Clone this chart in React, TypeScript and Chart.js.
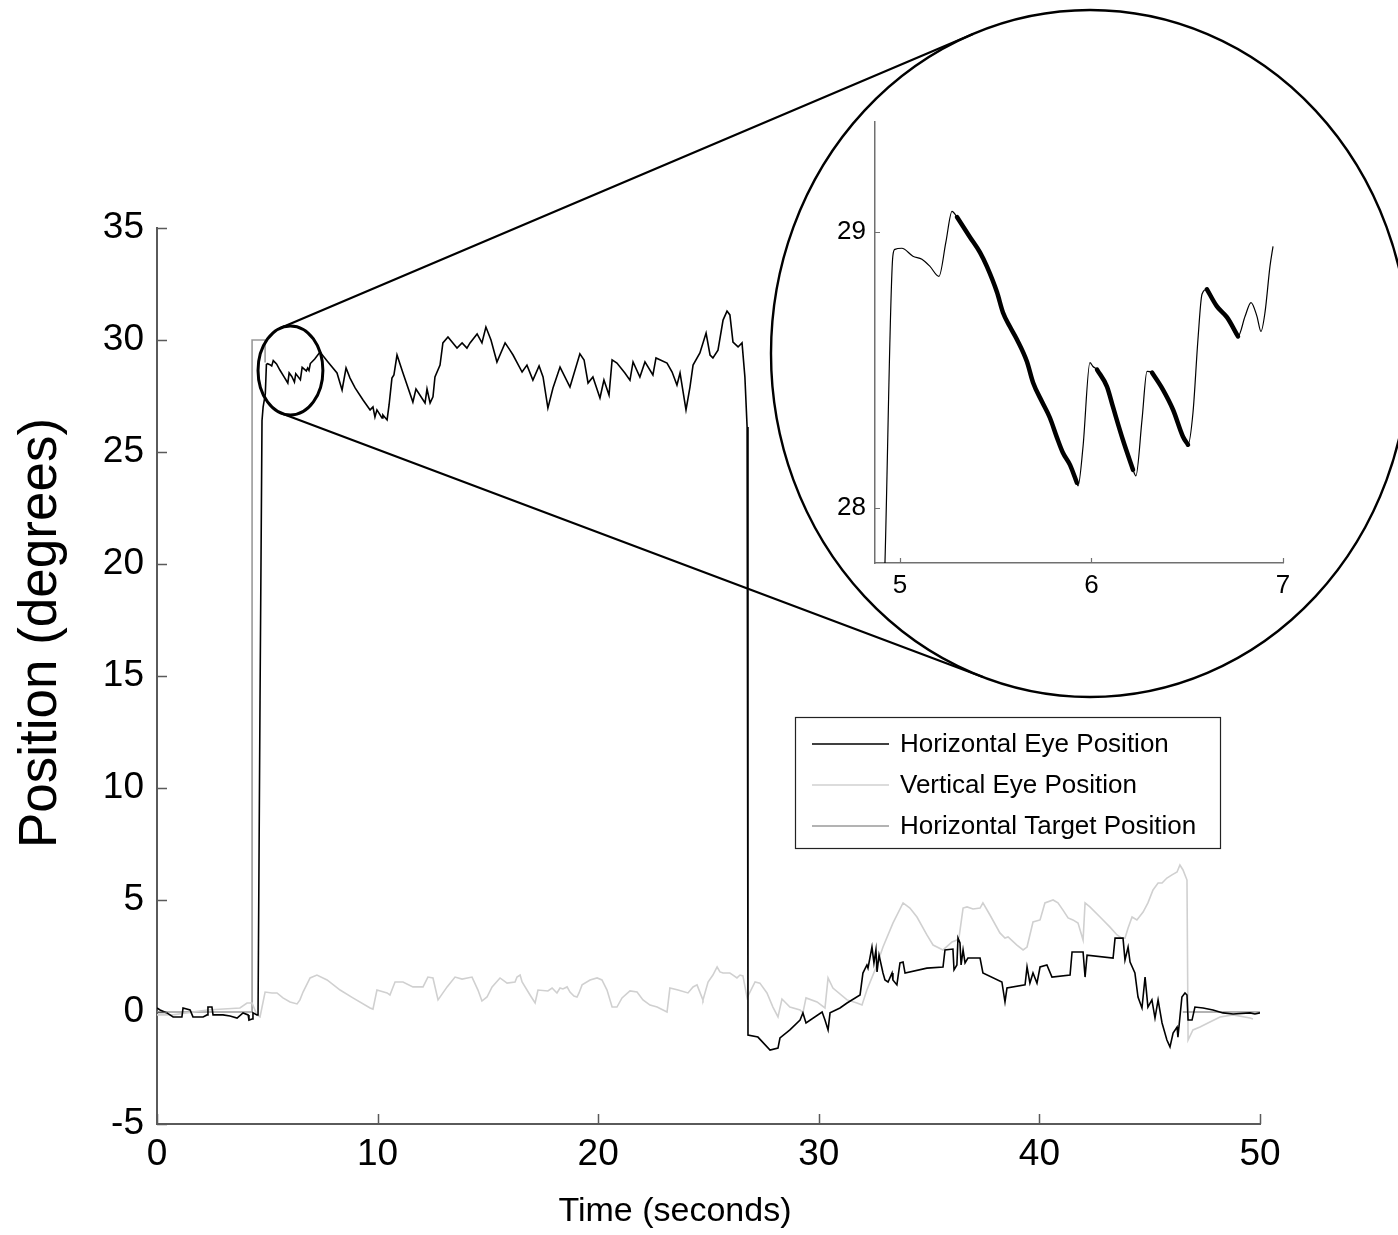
import { useEffect, useRef } from "react";
import { Chart, registerables } from "chart.js";

Chart.register(...registerables);

const FONT = "'Liberation Sans', Arial, Helvetica, sans-serif";

// ---- Recorded traces: [time (s), position (deg)] ----
const horizontalEye: [number, number][] = [
  [0, 0.18], [0.14, 0.09], [0.45, -0.04], [0.73, -0.22], [1.13, -0.22], [1.18, 0.18], [1.5, 0.09], [1.63, -0.22],
  [2.09, -0.22], [2.27, -0.13], [2.31, 0.22], [2.49, 0.22], [2.54, -0.13], [2.99, -0.13], [3.31, -0.18], [3.63, -0.27],
  [3.9, -0.04], [4.13, -0.13], [4.17, -0.36], [4.31, -0.31], [4.35, -0.04], [4.53, -0.13], [4.58, -0.13], [4.67, 13.9],
  [4.76, 26.4], [4.81, 27.0], [4.91, 27.6], [4.96, 28.91], [5.01, 28.94], [5.12, 28.9], [5.2, 28.84], [5.27, 29.08],
  [5.42, 28.93], [5.57, 28.66], [5.74, 28.39], [5.93, 28.08], [5.99, 28.53], [6.11, 28.37], [6.23, 28.12], [6.29, 28.5],
  [6.5, 28.23], [6.58, 28.78], [6.77, 28.62], [6.83, 28.75], [6.89, 28.64], [6.95, 28.95], [7.15, 29.15], [7.39, 29.46],
  [7.75, 29.02], [8.16, 28.53], [8.39, 27.77], [8.57, 28.75], [8.75, 28.3], [8.98, 27.86], [9.34, 27.32], [9.66, 26.88],
  [9.79, 27.01], [9.88, 26.56], [9.97, 26.88], [10.2, 26.52], [10.24, 26.65], [10.43, 26.43], [10.52, 27.1], [10.65, 28.3],
  [10.74, 28.44], [10.88, 29.33], [11.15, 28.53], [11.6, 27.23], [11.74, 27.81], [12.15, 27.19], [12.24, 27.81], [12.38, 27.19],
  [12.51, 27.46], [12.6, 28.35], [12.83, 28.88], [12.96, 29.87], [13.19, 30.13], [13.6, 29.64], [13.83, 29.87], [14.05, 29.64],
  [14.19, 29.87], [14.51, 30.27], [14.73, 29.87], [14.91, 30.58], [15.14, 30.0], [15.41, 29.02], [15.78, 29.87], [16.0, 29.55],
  [16.14, 29.33], [16.55, 28.57], [16.77, 28.88], [17.04, 28.21], [17.32, 28.84], [17.5, 28.35], [17.72, 26.96], [17.95, 27.86],
  [18.27, 28.79], [18.72, 27.9], [19.17, 29.38], [19.36, 29.11], [19.54, 28.08], [19.76, 28.35], [20.08, 27.41], [20.26, 28.21],
  [20.49, 27.54], [20.63, 29.11], [20.85, 28.97], [21.21, 28.53], [21.44, 28.21], [21.58, 29.02], [21.89, 28.35], [22.12, 29.02],
  [22.48, 28.44], [22.62, 29.2], [23.12, 28.97], [23.35, 28.57], [23.57, 27.99], [23.71, 28.53], [23.98, 26.88], [24.16, 27.9],
  [24.3, 28.88], [24.61, 29.42], [24.89, 30.31], [25.07, 29.33], [25.2, 29.2], [25.43, 29.55], [25.66, 30.89], [25.84, 31.29],
  [25.97, 31.12], [26.11, 29.91], [26.34, 29.69], [26.52, 29.87], [26.65, 28.35], [26.75, 26.12], [26.79, -1.03], [27.24, -1.12],
  [27.79, -1.7], [28.15, -1.61], [28.24, -1.16], [28.69, -0.8], [29.15, -0.36], [29.28, -0.04], [29.42, -0.49], [30.15, 0.0],
  [30.28, -0.36], [30.42, -0.8], [30.51, -0.04], [30.96, 0.18], [31.28, 0.4], [31.87, 0.76], [32.0, 1.74], [32.18, 2.1],
  [32.23, 1.96], [32.41, 2.9], [32.5, 2.19], [32.59, 2.77], [32.64, 1.79], [32.73, 2.54], [32.91, 1.74], [33.0, 1.43],
  [33.14, 1.34], [33.32, 1.74], [33.36, 1.43], [33.54, 1.21], [33.68, 2.19], [33.82, 2.23], [33.91, 1.74], [34.9, 1.96],
  [35.63, 2.01], [35.72, 2.77], [36.08, 2.81], [36.13, 1.88], [36.26, 2.1], [36.31, 3.3], [36.4, 3.08], [36.45, 2.1],
  [36.54, 2.77], [36.63, 2.19], [36.76, 2.41], [37.31, 2.41], [37.44, 1.74], [38.3, 1.34], [38.44, 0.45], [38.53, 1.07],
  [39.35, 1.21], [39.44, 2.01], [39.57, 1.29], [39.71, 1.74], [39.89, 1.29], [40.03, 2.01], [40.34, 2.1], [40.57, 1.56],
  [41.39, 1.65], [41.48, 2.68], [41.98, 2.68], [42.07, 1.56], [42.16, 2.54], [43.34, 2.41], [43.43, 3.3], [43.79, 3.3],
  [43.88, 2.32], [44.02, 2.9], [44.11, 2.23], [44.33, 1.74], [44.47, 0.67], [44.65, 0.18], [44.79, 1.56], [44.92, 0.22],
  [45.1, 0.54], [45.24, -0.27], [45.38, 0.54], [45.56, -0.49], [45.78, -1.25], [45.92, -1.56], [46.06, -0.94], [46.24, -0.67],
  [46.28, -1.12], [46.46, 0.67], [46.6, 0.85], [46.69, 0.76], [46.74, -0.36], [46.92, -0.36], [47.05, 0.22], [47.42, 0.18],
  [47.87, 0.09], [48.32, -0.04], [48.78, -0.09], [49.55, -0.04], [49.77, -0.09], [50, -0.04],
];

const verticalEye: [number, number][] = [
  [0, -0.13], [0.73, -0.13], [2.27, 0.09], [3.76, 0.18], [4.08, 0.4], [4.31, 0.4], [4.53, -0.13], [4.67, -0.22],
  [4.9, 0.89], [5.21, 0.85], [5.44, 0.85], [5.71, 0.63], [6.03, 0.45], [6.35, 0.36], [6.48, 0.54], [6.62, 0.89],
  [6.94, 1.52], [7.25, 1.65], [7.71, 1.43], [8.3, 0.98], [8.88, 0.63], [9.66, 0.18], [9.79, 0.13], [9.97, 0.98],
  [10.43, 0.85], [10.56, 0.76], [10.79, 1.34], [11.15, 1.34], [11.6, 1.12], [12.06, 1.12], [12.28, 1.56], [12.51, 1.52],
  [12.74, 0.54], [13.15, 1.12], [13.51, 1.56], [13.83, 1.47], [14.28, 1.56], [14.55, 0.98], [14.73, 0.49], [14.96, 0.67],
  [15.19, 1.12], [15.55, 1.52], [15.87, 1.29], [16.23, 1.34], [16.32, 1.56], [16.46, 1.65], [16.55, 1.34], [16.91, 0.76],
  [17.14, 0.4], [17.27, 0.98], [17.72, 0.94], [17.91, 1.07], [18.13, 0.85], [18.27, 1.07], [18.4, 1.03], [18.59, 1.12],
  [18.72, 0.89], [18.9, 0.71], [19.04, 0.67], [19.13, 0.85], [19.27, 1.21], [19.63, 1.43], [19.95, 1.52], [20.17, 1.43],
  [20.4, 0.98], [20.63, 0.22], [20.85, 0.22], [21.08, 0.63], [21.44, 0.94], [21.76, 0.89], [22.03, 0.54], [22.35, 0.31],
  [22.67, 0.22], [22.94, 0.09], [23.12, 0.0], [23.25, 1.07], [23.62, 0.98], [24.07, 0.85], [24.3, 1.12], [24.48, 1.21],
  [24.71, 0.63], [24.75, 0.54], [24.98, 1.34], [25.2, 1.65], [25.39, 2.01], [25.52, 1.79], [25.66, 1.74], [25.97, 1.74],
  [26.11, 1.65], [26.29, 1.52], [26.43, 1.65], [26.56, 1.61], [26.75, 0.63], [27.11, 1.34], [27.33, 1.29], [27.65, 0.85],
  [27.92, 0.22], [28.15, -0.22], [28.33, 0.58], [28.69, 0.22], [29.15, 0.09], [29.28, -0.04], [29.42, 0.63], [29.92, 0.45],
  [30.28, 0.18], [30.42, 1.52], [30.64, 1.07], [31.28, 0.54], [31.73, 0.4], [31.96, 0.31], [32.18, 0.98], [32.55, 1.88],
  [32.91, 2.9], [33.36, 3.97], [33.82, 4.87], [34.13, 4.64], [34.45, 4.24], [34.9, 3.44], [35.18, 2.99], [35.63, 2.77],
  [36.04, 3.13], [36.26, 3.21], [36.36, 3.35], [36.54, 4.64], [36.72, 4.69], [36.99, 4.6], [37.31, 4.64], [37.44, 4.87],
  [37.76, 4.33], [38.21, 3.53], [38.44, 3.3], [38.58, 3.35], [38.98, 2.99], [39.26, 2.77], [39.44, 2.9], [39.71, 4.02],
  [40.03, 4.11], [40.25, 4.87], [40.62, 5.0], [40.84, 4.87], [41.07, 4.55], [41.3, 4.2], [41.52, 4.11], [41.75, 3.97],
  [41.98, 3.21], [42.07, 4.87], [42.29, 4.69], [42.75, 4.24], [43.2, 3.79], [43.52, 3.44], [43.74, 3.3], [43.88, 3.3],
  [44.02, 3.75], [44.2, 4.24], [44.42, 4.11], [44.7, 4.46], [44.92, 4.87], [45.15, 5.45], [45.38, 5.76], [45.56, 5.76],
  [45.78, 5.98], [46.01, 6.12], [46.24, 6.25], [46.37, 6.56], [46.51, 6.34], [46.69, 5.89], [46.74, -1.25], [46.96, -0.8],
  [47.28, -0.67], [47.73, -0.45], [48.19, -0.22], [48.78, -0.13], [49.55, -0.27], [49.68, -0.31],
];

// target is only shown where it is defined (null = no target)
const horizontalTarget: [number, number | null][] = [
  [0, 0], [4.31, 0], [4.31, 30], [4.9, 30], [4.9, 29.0], [20, null], [46.5, 0], [50, 0],
];

const seriesLabels = ["Horizontal Eye Position", "Vertical Eye Position", "Horizontal Target Position"];
const seriesColors = ["#000000", "#d0d0d0", "#9a9a9a"];

const timeTicks = [0, 10, 20, 30, 40, 50];
const positionTicks = [-5, 0, 5, 10, 15, 20, 25, 30, 35];
const xTitle = "Time (seconds)";
const yTitle = "Position (degrees)";

// ---- Magnified excerpt of the horizontal eye trace ----
const insetTrace: [number, number][] = [
  [4.9, 27.3], [4.922, 27.8], [4.963, 28.913], [4.974, 28.938], [5.01, 28.942], [5.068, 28.913], [5.115, 28.902],
  [5.157, 28.876], [5.204, 28.84], [5.24, 28.964], [5.272, 29.076], [5.298, 29.055], [5.366, 28.982], [5.418, 28.927],
  [5.454, 28.876], [5.507, 28.782], [5.538, 28.709], [5.574, 28.658], [5.611, 28.611], [5.663, 28.531], [5.695, 28.455],
  [5.742, 28.385], [5.783, 28.327], [5.82, 28.255], [5.851, 28.2], [5.888, 28.156], [5.924, 28.091], [5.93, 28.08],
  [5.956, 28.222], [5.992, 28.527], [6.008, 28.513], [6.029, 28.502], [6.081, 28.44], [6.112, 28.367], [6.164, 28.247],
  [6.217, 28.138], [6.232, 28.116], [6.264, 28.32], [6.29, 28.495], [6.316, 28.491], [6.373, 28.429], [6.426, 28.356],
  [6.478, 28.258], [6.504, 28.229], [6.53, 28.345], [6.556, 28.611], [6.577, 28.775], [6.603, 28.793], [6.655, 28.731],
  [6.708, 28.691], [6.765, 28.622], [6.802, 28.695], [6.833, 28.745], [6.864, 28.695], [6.885, 28.64], [6.906, 28.709],
  [6.932, 28.876], [6.948, 28.949],
];
// slow phases highlighted with a heavy stroke: [start, end] in seconds
const slowPhases: [number, number][] = [[5.298, 5.924], [6.029, 6.217], [6.316, 6.504], [6.603, 6.765]];
const insetTimeTicks = [5, 6, 7];
const insetPositionTicks = [28, 29];
const insetTimeRange: [number, number] = [4.87, 7.0];
const insetPositionRange: [number, number] = [27.8, 29.4];

// magnified region marked on the main plot (data units)
const lensSource = { t: 6.05, p: 28.64, rt: 1.47, rp: 1.99 };

// ---- Layout ----
const W = 1398;
const H = 1235;
const MAIN_AREA = { left: 157, top: 228, right: 1260, bottom: 1124 };
const LENS = { cx: 1090, cy: 353.5, rx: 319, ry: 343.5 };
const INSET_AREA = { left: 875, top: 122, right: 1283, bottom: 563 };
const LEGEND_BOX = { left: 795, top: 717, width: 425, height: 131 };
const X_TITLE_POS = { x: 675, y: 1212, size: 34 };
const Y_TITLE_POS = { x: 41, y: 633, size: 53 };

const toXY = (pts: [number, number | null][]) => pts.map(([x, y]) => ({ x, y }));

const inwardTicks = {
  id: "inwardTicks",
  afterDatasetsDraw(chart: any, _args: any, opts: any) {
    const { ctx, chartArea } = chart;
    ctx.save();
    ctx.strokeStyle = opts.color;
    ctx.lineWidth = opts.width;
    ctx.beginPath();
    const xs = chart.scales.x;
    for (const t of xs.ticks) {
      const px = Math.round(xs.getPixelForValue(t.value)) + 0.5;
      ctx.moveTo(px, chartArea.bottom);
      ctx.lineTo(px, chartArea.bottom - opts.length);
    }
    const ys = chart.scales.y;
    for (const t of ys.ticks) {
      const py = Math.round(ys.getPixelForValue(t.value)) + 0.5;
      ctx.moveTo(chartArea.left, py);
      ctx.lineTo(chartArea.left + opts.length, py);
    }
    ctx.stroke();
    ctx.restore();
  },
};

const axisTitles = {
  id: "axisTitles",
  afterDraw(chart: any) {
    const { ctx } = chart;
    ctx.save();
    ctx.fillStyle = "#000";
    ctx.textAlign = "center";
    ctx.textBaseline = "middle";
    ctx.font = `${X_TITLE_POS.size}px ${FONT}`;
    ctx.fillText(xTitle, X_TITLE_POS.x, X_TITLE_POS.y);
    ctx.translate(Y_TITLE_POS.x, Y_TITLE_POS.y);
    ctx.rotate(-Math.PI / 2);
    ctx.font = `${Y_TITLE_POS.size}px ${FONT}`;
    ctx.fillText(yTitle, 0, 0);
    ctx.restore();
  },
};

type HP = { x: number; y: number; k: number };
function convexHull(pts: HP[]): HP[] {
  const s = [...pts].sort((a, b) => a.x - b.x || a.y - b.y);
  const cross = (o: HP, a: HP, b: HP) => (a.x - o.x) * (b.y - o.y) - (a.y - o.y) * (b.x - o.x);
  const lower: HP[] = [];
  for (const p of s) {
    while (lower.length >= 2 && cross(lower[lower.length - 2], lower[lower.length - 1], p) <= 0) lower.pop();
    lower.push(p);
  }
  const upper: HP[] = [];
  for (let i = s.length - 1; i >= 0; i--) {
    const p = s[i];
    while (upper.length >= 2 && cross(upper[upper.length - 2], upper[upper.length - 1], p) <= 0) upper.pop();
    upper.push(p);
  }
  upper.pop();
  lower.pop();
  return lower.concat(upper);
}

function ellipsePoints(cx: number, cy: number, rx: number, ry: number, k: number, n = 720): HP[] {
  const out: HP[] = [];
  for (let i = 0; i < n; i++) {
    const a = (i / n) * Math.PI * 2;
    out.push({ x: cx + rx * Math.cos(a), y: cy + ry * Math.sin(a), k });
  }
  return out;
}

// magnifier: small ellipse on the trace, large lens, and the two connecting tangents
const magnifier = {
  id: "magnifier",
  afterDraw(chart: any) {
    const { ctx } = chart;
    const xs = chart.scales.x;
    const ys = chart.scales.y;
    const scx = xs.getPixelForValue(lensSource.t);
    const scy = ys.getPixelForValue(lensSource.p);
    const srx = Math.abs(xs.getPixelForValue(lensSource.t + lensSource.rt) - scx);
    const sry = Math.abs(ys.getPixelForValue(lensSource.p + lensSource.rp) - scy);

    ctx.save();
    ctx.strokeStyle = "#000";
    ctx.lineWidth = 3;
    ctx.beginPath();
    ctx.ellipse(scx, scy, srx, sry, 0, 0, Math.PI * 2);
    ctx.stroke();

    ctx.lineWidth = 2.4;
    ctx.beginPath();
    ctx.ellipse(LENS.cx, LENS.cy, LENS.rx, LENS.ry, 0, 0, Math.PI * 2);
    ctx.stroke();

    const hull = convexHull([
      ...ellipsePoints(scx, scy, srx, sry, 0),
      ...ellipsePoints(LENS.cx, LENS.cy, LENS.rx, LENS.ry, 1),
    ]);
    ctx.lineWidth = 2.2;
    ctx.beginPath();
    for (let i = 0; i < hull.length; i++) {
      const a = hull[i];
      const b = hull[(i + 1) % hull.length];
      if (a.k !== b.k) {
        ctx.moveTo(a.x, a.y);
        ctx.lineTo(b.x, b.y);
      }
    }
    ctx.stroke();
    ctx.restore();
  },
};

const boxLegend = {
  id: "boxLegend",
  afterDraw(chart: any) {
    const { ctx } = chart;
    const b = LEGEND_BOX;
    ctx.save();
    ctx.fillStyle = "#fff";
    ctx.fillRect(b.left, b.top, b.width, b.height);
    ctx.strokeStyle = "#222";
    ctx.lineWidth = 1.2;
    ctx.strokeRect(b.left + 0.5, b.top + 0.5, b.width, b.height);
    ctx.font = `26px ${FONT}`;
    ctx.textBaseline = "middle";
    ctx.textAlign = "left";
    chart.data.datasets.forEach((ds: any, i: number) => {
      const y = b.top + 27 + i * 41;
      ctx.strokeStyle = ds.borderColor;
      ctx.lineWidth = 1.6;
      ctx.beginPath();
      ctx.moveTo(b.left + 17, y);
      ctx.lineTo(b.left + 94, y);
      ctx.stroke();
      ctx.fillStyle = "#000";
      ctx.fillText(ds.label, b.left + 105, y + 1);
    });
    ctx.restore();
  },
};

export default function App() {
  const mainRef = useRef<HTMLCanvasElement>(null);
  const insetRef = useRef<HTMLCanvasElement>(null);

  useEffect(() => {
    const series = [horizontalEye, verticalEye, horizontalTarget];
    const main = new Chart(mainRef.current!, {
      type: "line",
      data: {
        datasets: series.map((s, i) => ({
          label: seriesLabels[i],
          data: toXY(s as [number, number | null][]),
          borderColor: seriesColors[i],
          borderWidth: 1.6,
          pointRadius: 0,
          tension: 0,
          spanGaps: false,
        })),
      },
      options: {
        responsive: false,
        animation: false,
        devicePixelRatio: 1,
        layout: { padding: { left: 0, top: MAIN_AREA.top, right: W - MAIN_AREA.right, bottom: 0 } },
        plugins: {
          legend: { display: false },
          tooltip: { enabled: false },
          inwardTicks: { length: 10, color: "#5a5a5a", width: 1.5 },
        } as any,
        scales: {
          x: {
            type: "linear",
            min: timeTicks[0],
            max: timeTicks[timeTicks.length - 1],
            afterBuildTicks: (s: any) => { s.ticks = timeTicks.map((v) => ({ value: v })); },
            afterFit: (s: any) => { s.height = H - MAIN_AREA.bottom; },
            grid: { display: false, drawTicks: false },
            border: { display: true, color: "#5a5a5a", width: 2 },
            ticks: { color: "#000", padding: 9, font: { family: FONT, size: 37 } },
          },
          y: {
            type: "linear",
            min: positionTicks[0],
            max: positionTicks[positionTicks.length - 1],
            afterBuildTicks: (s: any) => { s.ticks = positionTicks.map((v) => ({ value: v })); },
            afterFit: (s: any) => { s.width = MAIN_AREA.left; },
            grid: { display: false, drawTicks: false },
            border: { display: true, color: "#5a5a5a", width: 2 },
            ticks: { color: "#000", padding: 13, font: { family: FONT, size: 37 } },
          },
        },
      },
      plugins: [inwardTicks, magnifier, boxLegend, axisTitles],
    });

    const thick: { x: number; y: number | null }[] = [];
    slowPhases.forEach(([a, b], i) => {
      if (i > 0) thick.push({ x: (a + slowPhases[i - 1][1]) / 2, y: null });
      insetTrace.filter(([t]) => t >= a && t <= b).forEach(([x, y]) => thick.push({ x, y }));
    });

    const insetLeft = LENS.cx - LENS.rx;
    const insetTop = LENS.cy - LENS.ry;
    const inset = new Chart(insetRef.current!, {
      type: "line",
      data: {
        datasets: [
          {
            label: "slow phase",
            data: thick,
            borderColor: "#000",
            borderWidth: 4.5,
            pointRadius: 0,
            cubicInterpolationMode: "monotone",
            spanGaps: false,
            borderCapStyle: "round",
          },
          {
            label: "eye",
            data: toXY(insetTrace),
            borderColor: "#000",
            borderWidth: 1.2,
            pointRadius: 0,
            cubicInterpolationMode: "monotone",
          },
        ],
      },
      options: {
        responsive: false,
        animation: false,
        devicePixelRatio: 1,
        layout: {
          padding: {
            left: 0,
            top: INSET_AREA.top - insetTop,
            right: insetLeft + 2 * LENS.rx - INSET_AREA.right,
            bottom: 0,
          },
        },
        plugins: {
          legend: { display: false },
          tooltip: { enabled: false },
          inwardTicks: { length: 5, color: "#707070", width: 1.2 },
        } as any,
        scales: {
          x: {
            type: "linear",
            min: insetTimeRange[0],
            max: insetTimeRange[1],
            afterBuildTicks: (s: any) => { s.ticks = insetTimeTicks.map((v) => ({ value: v })); },
            afterFit: (s: any) => { s.height = insetTop + 2 * LENS.ry - INSET_AREA.bottom; },
            grid: { display: false, drawTicks: false },
            border: { display: true, color: "#707070", width: 1.5 },
            ticks: { color: "#000", padding: 7, font: { family: FONT, size: 26 } },
          },
          y: {
            type: "linear",
            min: insetPositionRange[0],
            max: insetPositionRange[1],
            afterBuildTicks: (s: any) => { s.ticks = insetPositionTicks.map((v) => ({ value: v })); },
            afterFit: (s: any) => { s.width = INSET_AREA.left - insetLeft; },
            grid: { display: false, drawTicks: false },
            border: { display: true, color: "#707070", width: 1.5 },
            ticks: { color: "#000", padding: 9, font: { family: FONT, size: 26 } },
          },
        },
      },
      plugins: [inwardTicks],
    });

    return () => {
      main.destroy();
      inset.destroy();
    };
  }, []);

  return (
    <div
      style={{
        position: "absolute",
        left: 0,
        top: 0,
        width: W,
        height: H,
        overflow: "hidden",
        background: "#fff",
      }}
    >
      <canvas
        ref={mainRef}
        width={W}
        height={H}
        style={{ position: "absolute", left: 0, top: 0, width: W, height: H }}
      />
      <canvas
        ref={insetRef}
        width={2 * LENS.rx}
        height={2 * LENS.ry}
        style={{
          position: "absolute",
          left: LENS.cx - LENS.rx,
          top: LENS.cy - LENS.ry,
          width: 2 * LENS.rx,
          height: 2 * LENS.ry,
          clipPath: `ellipse(${LENS.rx}px ${LENS.ry}px at ${LENS.rx}px ${LENS.ry}px)`,
        }}
      />
    </div>
  );
}
